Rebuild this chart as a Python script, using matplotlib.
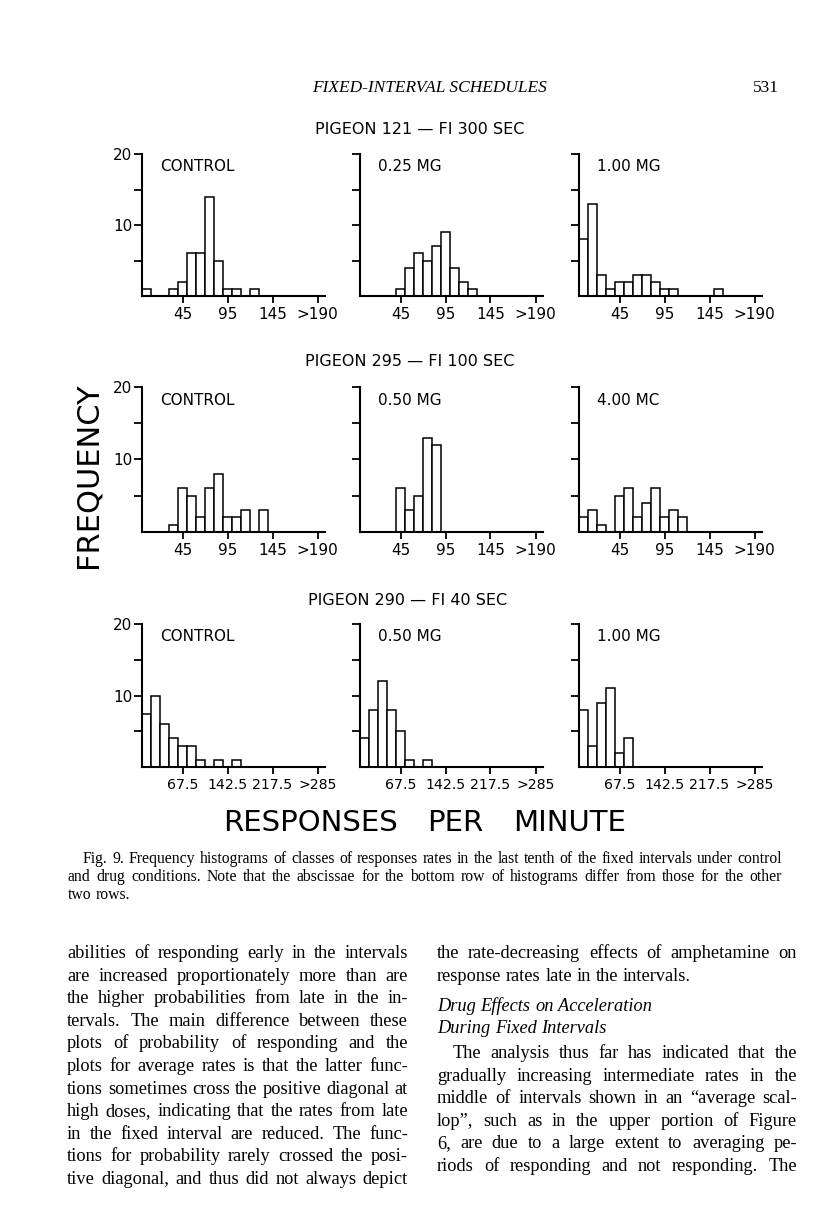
import numpy as np
import matplotlib
matplotlib.use("Agg")
import matplotlib.pyplot as plt

# ---------------- data ----------------
row_titles = ["PIGEON 121 \u2014 FI 300 SEC", "PIGEON 295 \u2014 FI 100 SEC", "PIGEON 290 \u2014 FI 40 SEC"]
panel_labels = [["CONTROL", "0.25 MG", "1.00 MG"],
                ["CONTROL", "0.50 MG", "4.00 MC"],
                ["CONTROL", "0.50 MG", "1.00 MG"]]
xtick_labels_top = ["45", "95", "145", ">190"]
xtick_labels_bottom = ["67.5", "142.5", "217.5", ">285"]

# frequencies per class (class index 0..19)
p121_control = [1, 0, 0, 1, 2, 6, 6, 14, 5, 1, 1, 0, 1, 0, 0, 0, 0, 0, 0, 0]
p121_025mg   = [0, 0, 0, 0, 1, 4, 6, 5, 7, 9, 4, 2, 1, 0, 0, 0, 0, 0, 0, 0]
p121_100mg   = [8, 13, 3, 1, 2, 2, 3, 3, 2, 1, 1, 0, 0, 0, 0, 1, 0, 0, 0, 0]
p295_control = [0, 0, 0, 1, 6, 5, 2, 6, 8, 2, 2, 3, 0, 3, 0, 0, 0, 0, 0, 0]
p295_050mg   = [0, 0, 0, 0, 6, 3, 5, 13, 12, 0, 0, 0, 0, 0, 0, 0, 0, 0, 0, 0]
p295_400mg   = [2, 3, 1, 0, 5, 6, 2, 4, 6, 2, 3, 2, 0, 0, 0, 0, 0, 0, 0, 0]
p290_control = [7.4, 10, 6, 4, 3, 3, 1, 0, 1, 0, 1, 0, 0, 0, 0, 0, 0, 0, 0, 0]
p290_050mg   = [4, 8, 12, 8, 5, 1, 0, 1, 0, 0, 0, 0, 0, 0, 0, 0, 0, 0, 0, 0]
p290_100mg   = [8, 3, 9, 11, 2, 4, 0, 0, 0, 0, 0, 0, 0, 0, 0, 0, 0, 0, 0, 0]

data = [[p121_control, p121_025mg, p121_100mg],
        [p295_control, p295_050mg, p295_400mg],
        [p290_control, p290_050mg, p290_100mg]]

header_title = "FIXED-INTERVAL SCHEDULES"
page_number = "531"
caption_lines = [
    "Fig. 9. Frequency histograms of classes of responses rates in the last tenth of the fixed intervals under control",
    "and drug conditions. Note that the abscissae for the bottom row of histograms differ from those for the other",
    "two rows.",
]
left_col = [
    "abilities of responding early in the intervals",
    "are increased proportionately more than are",
    "the higher probabilities from late in the in-",
    "tervals. The main difference between these",
    "plots of probability of responding and the",
    "plots for average rates is that the latter func-",
    "tions sometimes cross the positive diagonal at",
    "high doses, indicating that the rates from late",
    "in the fixed interval are reduced. The func-",
    "tions for probability rarely crossed the posi-",
    "tive diagonal, and thus did not always depict",
]
right_col_a = [
    "the rate-decreasing effects of amphetamine on",
    "response rates late in the intervals.",
]
right_col_heads = ["Drug Effects on Acceleration", "During Fixed Intervals"]
right_col_b = [
    "The analysis thus far has indicated that the",
    "gradually increasing intermediate rates in the",
    "middle of intervals shown in an \u201caverage scal-",
    "lop\u201d, such as in the upper portion of Figure",
    "6, are due to a large extent to averaging pe-",
    "riods of responding and not responding. The",
]

# ---------------- layout ----------------
W, H = 816, 1207
fig = plt.figure(figsize=(W / 100, H / 100), dpi=100)
fig.patch.set_facecolor("white")

def fx(x):
    return x / W

def fy(y):
    return 1 - y / H

col_x = [142, 360, 579]
row_top = [154, 387, 624]
row_bot = [296, 532, 767]
nbins_view = 20.3
bin_px = 9.0
ax_w = nbins_view * bin_px

sans = "DejaVu Sans"
serif = "Liberation Serif"

for r in range(3):
    for c in range(3):
        left = col_x[c]
        top = row_top[r]
        bot = row_bot[r]
        ax = fig.add_axes([fx(left), fy(bot), ax_w / W, (bot - top) / H])
        vals = data[r][c]
        idx = np.arange(len(vals))
        ax.bar(idx + 0.5, vals, width=1.0, facecolor="white", edgecolor="black",
               linewidth=1.1, zorder=2)
        ax.set_xlim(0, nbins_view)
        ax.set_ylim(0, 20)
        for s in ["top", "right"]:
            ax.spines[s].set_visible(False)
        ax.spines["left"].set_linewidth(1.5)
        ax.spines["bottom"].set_linewidth(1.5)
        ax.spines["left"].set_zorder(3)
        ax.set_yticks([5, 10, 15, 20])
        if c == 0:
            ax.set_yticklabels(["", "10", "", "20"])
        else:
            ax.set_yticklabels(["", "", "", ""])
        ax.tick_params(axis="y", direction="out", length=6, width=1.3, pad=1,
                       labelsize=11)
        ax.set_xticks([4.5, 9.5, 14.5, 19.5])
        ax.set_xticklabels(xtick_labels_bottom if r == 2 else xtick_labels_top)
        ax.tick_params(axis="x", direction="out", length=5, width=1.3, pad=3,
                       labelsize=10.2 if r == 2 else 11)
        for lab in ax.get_xticklabels() + ax.get_yticklabels():
            lab.set_fontfamily(sans)
        ax.text(2.0, 18.2, panel_labels[r][c], fontsize=11, family=sans,
                ha="left", va="center")
        ax.patch.set_alpha(0)

# row titles
row_title_y = [129, 361, 600]
row_title_x = [420, 410, 408]
for r in range(3):
    fig.text(fx(row_title_x[r]), fy(row_title_y[r]), row_titles[r], fontsize=11.5,
             family=sans, ha="center", va="center")

# FREQUENCY label
fig.text(fx(88), fy(475), "FREQUENCY", rotation=90, fontsize=22, family=sans,
         ha="center", va="center")

# RESPONSES PER MINUTE
for word, xc in [("RESPONSES", 310), ("PER", 455), ("MINUTE", 570)]:
    fig.text(fx(xc), fy(823), word, fontsize=21, family=sans, ha="center", va="center")

# page header
fig.text(fx(430), fy(88), header_title, fontsize=12.5, family=serif, style="italic",
         ha="center", va="center")
fig.text(fx(766), fy(88), page_number, fontsize=12.5, family=serif,
         ha="center", va="center")

renderer = fig.canvas.get_renderer()

def justify(line, x0, x1, y, size, style="normal", full=True):
    # y is the text centre line (pixels); words are placed on a common baseline
    base = y + size * 1.389 * 0.33
    words = line.split(" ")
    texts = []
    for w in words:
        t = fig.text(fx(x0), fy(base), w, fontsize=size, family=serif, style=style,
                     ha="left", va="baseline")
        texts.append(t)
    widths = [t.get_window_extent(renderer).width for t in texts]
    sp = fig.text(0, 0, "a a", fontsize=size, family=serif, style=style)
    sp2 = fig.text(0, 0, "aa", fontsize=size, family=serif, style=style)
    space = sp.get_window_extent(renderer).width - sp2.get_window_extent(renderer).width
    sp.remove()
    sp2.remove()
    if full and len(words) > 1:
        gap = (x1 - x0 - sum(widths)) / (len(words) - 1)
    else:
        gap = space
    x = x0
    for t, w in zip(texts, widths):
        t.set_x(fx(x))
        x += w + gap

# caption
cap_size = 11.3
justify(caption_lines[0], 83, 782, 858, cap_size)
justify(caption_lines[1], 68, 782, 876, cap_size)
justify(caption_lines[2], 68, 782, 894, cap_size, full=False)

# body text
body_size = 13.2
lsp = 22.6
for i, line in enumerate(left_col):
    justify(line, 67, 408, 952 + i * lsp, body_size)

justify(right_col_a[0], 437, 797, 952, body_size)
justify(right_col_a[1], 437, 797, 952 + lsp, body_size, full=False)
justify(right_col_heads[0], 437, 797, 1005, body_size, style="italic", full=False)
justify(right_col_heads[1], 437, 797, 1027, body_size, style="italic", full=False)
for i, line in enumerate(right_col_b):
    x0 = 453 if i == 0 else 437
    justify(line, x0, 797, 1052 + i * lsp, body_size)

fig.savefig("out.png", dpi=100, facecolor="white")
